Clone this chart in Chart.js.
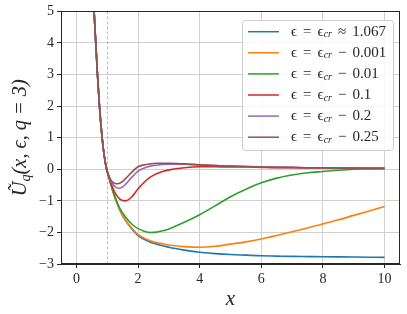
<!DOCTYPE html>
<html><head><meta charset="utf-8">
<script src="https://cdn.jsdelivr.net/npm/chart.js@4/dist/chart.umd.min.js"></script>
<style>html,body{margin:0;padding:0;background:#fff}#wrap{width:407px;height:314px;position:relative}</style>
</head><body><div id="wrap"><canvas id="c"></canvas></div>
<script>
// ---- data ----
const xValues = [0.56, 0.574, 0.6, 0.629, 0.683, 0.748, 0.834, 0.9, 0.98,
  1.05, 1.1, 1.2, 1.3, 1.4, 1.5, 1.6, 1.8, 2.0, 2.2, 2.4, 2.6, 2.8, 3.0, 3.5, 4, 4.5, 5, 5.5, 6, 6.5, 7, 7.5, 8, 8.5, 9, 9.5, 10];
const steepPart = [5.25, 5.0, 4.5, 4.0, 3.0, 2.0, 1.0, 0.45, 0.0];
const uCritical = steepPart.concat([-0.24, -0.42, -0.75, -1.03, -1.27, -1.47, -1.63, -1.89, -2.10, -2.22, -2.31, -2.37, -2.42, -2.47, -2.56, -2.63, -2.67, -2.70, -2.72, -2.74, -2.75, -2.76, -2.765, -2.77, -2.775, -2.78, -2.785, -2.79]);
const uMinus0001 = steepPart.concat([-0.24, -0.42, -0.75, -1.03, -1.27, -1.46, -1.62, -1.87, -2.07, -2.18, -2.26, -2.32, -2.36, -2.40, -2.45, -2.47, -2.44, -2.37, -2.30, -2.21, -2.10, -1.98, -1.86, -1.73, -1.60, -1.46, -1.32, -1.18]);
const uMinus001 = steepPart.concat([-0.24, -0.41, -0.73, -1.00, -1.22, -1.38, -1.52, -1.74, -1.88, -1.96, -2.00, -1.99, -1.95, -1.89, -1.68, -1.44, -1.16, -0.87, -0.63, -0.43, -0.28, -0.18, -0.11, -0.07, -0.03, 0.0, 0.02, 0.03]);
const uMinus01 = steepPart.concat([-0.22, -0.38, -0.64, -0.82, -0.94, -0.99, -1.0, -0.87, -0.62, -0.41, -0.25, -0.14, -0.07, -0.02, 0.05, 0.08, 0.08, 0.07, 0.07, 0.06, 0.05, 0.05, 0.04, 0.04, 0.04, 0.03, 0.03, 0.03]);
const uMinus02 = steepPart.concat([-0.20, -0.33, -0.50, -0.58, -0.60, -0.56, -0.47, -0.25, -0.06, 0.04, 0.10, 0.13, 0.15, 0.16, 0.16, 0.14, 0.12, 0.10, 0.09, 0.08, 0.07, 0.06, 0.05, 0.05, 0.04, 0.04, 0.03, 0.03]);
const uMinus025 = steepPart.concat([-0.19, -0.31, -0.42, -0.46, -0.44, -0.38, -0.29, -0.09, 0.08, 0.14, 0.17, 0.19, 0.19, 0.19, 0.17, 0.14, 0.12, 0.10, 0.09, 0.07, 0.06, 0.06, 0.05, 0.05, 0.04, 0.04, 0.03, 0.03]);
const seriesLabels = ['ϵ = ϵ_cr ≈ 1.067', 'ϵ = ϵ_cr − 0.001', 'ϵ = ϵ_cr − 0.01', 'ϵ = ϵ_cr − 0.1', 'ϵ = ϵ_cr − 0.2', 'ϵ = ϵ_cr − 0.25'];
const seriesValues = [uCritical, uMinus0001, uMinus001, uMinus01, uMinus02, uMinus025];
const seriesColors = ['#1f77b4', '#ff7f0e', '#2ca02c', '#d62728', '#9467bd', '#8c564b'];
const xTicks = [0, 2, 4, 6, 8, 10];
const xTickLabels = ['0', '2', '4', '6', '8', '10'];
const yTicks = [-3, -2, -1, 0, 1, 2, 3, 4, 5];
const yTickLabels = ['−3', '−2', '−1', '0', '1', '2', '3', '4', '5'];
const markerX = 1;
const xTitle = 'x';
const yTitle = 'Ũ_q(x, ϵ, q = 3)';

const SERIF = "'Liberation Serif', 'DejaVu Serif', serif";
const INK = '#262626';

function parseRich(text) {
  const parts = [];
  const re = /_(\w+)/g; let last = 0, m;
  while ((m = re.exec(text))) {
    if (m.index > last) parts.push({t: text.slice(last, m.index), sub: false});
    parts.push({t: m[1], sub: true}); last = re.lastIndex;
  }
  if (last < text.length) parts.push({t: text.slice(last), sub: false});
  const toks = [];
  parts.forEach(p => {
    if (p.sub) { toks.push({t: p.t, sub: true}); return; }
    p.t.split(' ').forEach((w, i) => {
      if (i > 0) toks.push({space: true});
      if (w) toks.push({t: w, sub: false});
    });
  });
  return toks;
}

function layoutRich(ctx, text, o) {
  const toks = parseRich(text);
  const mainFont = `${o.style || ''} ${o.size}px ${SERIF}`;
  const subFont = `italic ${o.sub}px ${SERIF}`;
  ctx.font = mainFont;
  const baseSp = ctx.measureText(' ').width;
  let wordsW = 0, nSp = 0;
  toks.forEach(t => {
    if (t.space) { nSp++; return; }
    ctx.font = t.sub ? subFont : mainFont;
    t.w = ctx.measureText(t.t).width; wordsW += t.w;
  });
  return {toks, mainFont, subFont, baseSp, wordsW, nSp};
}

function drawRich(ctx, text, x, y, o) {
  const L = layoutRich(ctx, text, o);
  const gap = o.gap != null ? o.gap : L.baseSp;
  const total = L.wordsW + gap * L.nSp;
  let cx = o.align === 'center' ? x - total / 2 : x;
  ctx.textAlign = 'left'; ctx.textBaseline = 'middle';
  L.toks.forEach(t => {
    if (t.space) { cx += gap; return; }
    ctx.font = t.sub ? L.subFont : L.mainFont;
    ctx.fillText(t.t, cx, y + (t.sub ? o.drop : 0));
    cx += t.w;
  });
}

const decor = {
  id: 'decor',
  beforeDatasetsDraw(chart) {
    const {ctx, chartArea: a, scales: {x}} = chart;
    const px = Math.round(x.getPixelForValue(markerX)) + 0.5;
    ctx.save();
    ctx.strokeStyle = '#aaaaaa'; ctx.lineWidth = 0.8; ctx.setLineDash([3, 2]);
    ctx.beginPath(); ctx.moveTo(px, a.top); ctx.lineTo(px, a.bottom); ctx.stroke();
    ctx.restore();
  },
  afterDatasetsDraw(chart) {
    const {ctx, chartArea: a} = chart;
    ctx.save();
    ctx.strokeStyle = INK; ctx.lineWidth = 1;
    ctx.strokeRect(Math.round(a.left) + 0.5, Math.round(a.top) + 0.5, Math.round(a.right - a.left) - 1, Math.round(a.bottom - a.top) - 1);
    // legend
    const bx = 242, by = 20, bw = 151, bh = 130;
    ctx.fillStyle = 'rgba(255,255,255,0.85)'; ctx.strokeStyle = '#cccccc';
    ctx.beginPath(); ctx.roundRect(bx + 0.5, by + 0.5, bw, bh, 3); ctx.fill(); ctx.stroke();
    const lo = {size: 15, sub: 10, drop: 3};
    const L0 = layoutRich(ctx, seriesLabels[0], lo);
    lo.gap = Math.max(L0.baseSp, (95 - L0.wordsW) / L0.nSp);
    seriesLabels.forEach((lab, i) => {
      const yy = 31.7 + i * 21.1;
      ctx.strokeStyle = seriesColors[i]; ctx.lineWidth = 1.5;
      ctx.beginPath(); ctx.moveTo(248, yy); ctx.lineTo(279, yy); ctx.stroke();
      ctx.fillStyle = INK;
      drawRich(ctx, lab, 291, yy, lo);
    });
    ctx.restore();
    // y title: fit font size to reference length
    ctx.save();
    ctx.translate(21, (a.top + a.bottom) / 2);
    ctx.rotate(-Math.PI / 2);
    ctx.fillStyle = INK;
    const to = {size: 20, sub: 14, drop: 5, style: 'italic', align: 'center'};
    const LT = layoutRich(ctx, yTitle, to);
    const k = 117 / (LT.wordsW + LT.baseSp * LT.nSp);
    to.size = 20 * k; to.sub = 14 * k; to.drop = 5 * k;
    drawRich(ctx, yTitle, 0, 0, to);
    ctx.restore();
  }
};

new Chart(document.getElementById('c'), {
  type: 'line',
  data: {
    datasets: seriesValues.map((vals, i) => ({
      label: seriesLabels[i],
      data: xValues.map((xv, k) => ({x: xv, y: vals[k]})),
      borderColor: seriesColors[i],
      backgroundColor: seriesColors[i],
      borderWidth: 1.6,
      pointRadius: 0,
      cubicInterpolationMode: 'monotone',
      fill: false,
      order: seriesValues.length - i
    }))
  },
  options: {
    responsive: true, maintainAspectRatio: false, animation: false,
    devicePixelRatio: 1,
    layout: {padding: {top: 11, right: 7, left: 0, bottom: 0}},
    plugins: {legend: {display: false}, tooltip: {enabled: false}},
    scales: {
      x: {
        type: 'linear', min: -0.5, max: 10.5,
        afterBuildTicks: s => { s.ticks = xTicks.map(v => ({value: v})); },
        afterFit: s => { s.height = 50; },
        ticks: {font: {family: SERIF, size: 14}, color: INK, padding: 3,
          callback: v => xTickLabels[xTicks.indexOf(v)]},
        grid: {color: '#d0d0d0', lineWidth: 1, tickLength: 4, tickColor: INK, tickWidth: 1},
        border: {display: true, color: INK, width: 1},
        title: {display: true, text: xTitle, font: {family: SERIF, size: 21, style: 'italic'}, color: INK, padding: {top: 0, bottom: 2}}
      },
      y: {
        type: 'linear', min: -3, max: 5,
        afterBuildTicks: s => { s.ticks = yTicks.map(v => ({value: v})); },
        afterFit: s => { s.width = 61; },
        ticks: {font: {family: SERIF, size: 14}, color: INK, padding: 3,
          callback: v => yTickLabels[yTicks.indexOf(v)]},
        grid: {color: '#d0d0d0', lineWidth: 1, tickLength: 4, tickColor: INK, tickWidth: 1},
        border: {display: true, color: INK, width: 1}
      }
    }
  },
  plugins: [decor]
});
</script></body></html>
